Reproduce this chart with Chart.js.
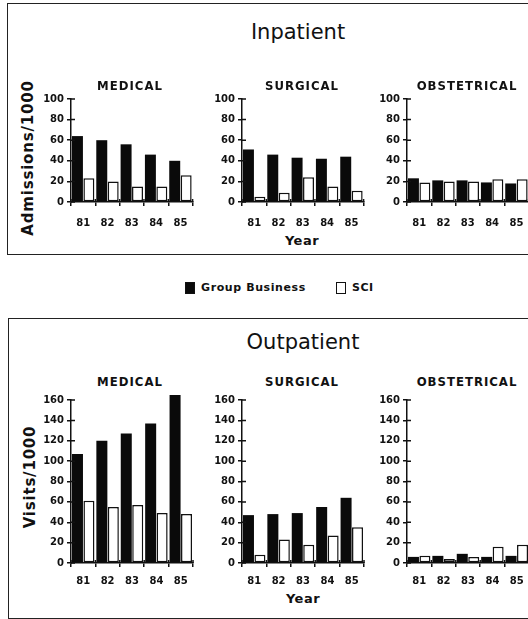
<!DOCTYPE html>
<html>
<head>
<meta charset="utf-8">
<script src="https://cdn.jsdelivr.net/npm/chart.js@4.4.0/dist/chart.umd.min.js"></script>
<style>
  body { margin:0; width:528px; height:619px; overflow:hidden; background:#fff; position:relative; font-family:'DejaVu Sans', sans-serif; color:#111; }
  .box { position:absolute; border:1.5px solid #222; box-sizing:border-box; }
  .txt { position:absolute; white-space:nowrap; transform:translate(-50%,-50%); }
  .title { font-size:21px; }
  .sub { font-size:13px; font-weight:bold; letter-spacing:1px; font-family:'DejaVu Sans Condensed','DejaVu Sans',sans-serif; }
  .ytitle { font-size:15px; font-weight:bold; letter-spacing:0.8px; transform:translate(-50%,-50%) rotate(-90deg); }
  .xtitle { font-size:13px; font-weight:bold; letter-spacing:0.5px; }
  .panel { position:absolute; }
  #legend { position:absolute; left:185px; top:281px; font-size:11px; font-weight:bold; letter-spacing:0.6px; display:flex; align-items:center; }
  #legend .sw { width:10px; height:12px; box-sizing:border-box; border:1.5px solid #111; margin-right:6px; }
  #legend .item { display:flex; align-items:center; margin-right:30px; }
</style>
</head>
<body>
<div class="box" style="left:7px;top:3px;width:540px;height:252px;"></div>
<div class="box" style="left:8px;top:318px;width:540px;height:301px;"></div>

<div class="txt title" style="left:298px;top:32px;">Inpatient</div>
<div class="txt title" style="left:303px;top:342px;">Outpatient</div>
<div class="txt ytitle" style="left:28px;top:158px;">Admissions/1000</div>
<div class="txt ytitle" style="left:30px;top:477px;">Visits/1000</div>
<div class="txt xtitle" style="left:302px;top:240px;">Year</div>
<div class="txt xtitle" style="left:303px;top:598px;">Year</div>
<div id="legend"></div>

<script>
// years on the x axis
const years = ['81', '82', '83', '84', '85'];
const seriesNames = ['Group Business', 'SCI'];
const sections = ['MEDICAL', 'SURGICAL', 'OBSTETRICAL'];

// Inpatient, admissions per 1000
const inMedicalGB = [64, 60, 56, 46, 40];
const inMedicalSCI = [23, 20, 15, 15, 26];
const inSurgicalGB = [51, 46, 43, 42, 44];
const inSurgicalSCI = [5, 9, 24, 15, 11];
const inObstetricalGB = [23, 21, 21, 19, 18];
const inObstetricalSCI = [19, 20, 20, 22, 22];

// Outpatient, visits per 1000
const outMedicalGB = [107, 120, 127, 137, 165];
const outMedicalSCI = [61, 55, 57, 49, 48];
const outSurgicalGB = [47, 48, 49, 55, 64];
const outSurgicalSCI = [8, 23, 18, 27, 35];
const outObstetricalGB = [6, 7, 9, 6, 7];
const outObstetricalSCI = [7, 4, 6, 16, 18];

const inpatientTicks = [0, 20, 40, 60, 80, 100];
const outpatientTicks = [0, 20, 40, 60, 80, 100, 120, 140, 160];

const ink = '#111';
const tickFont = { family: 'DejaVu Sans', size: 10, weight: 'bold' };

// little inward tick marks so the ticks cross the axis lines
const crossTicks = {
    id: 'crossTicks',
    afterDraw(chart) {
        const ctx = chart.ctx, a = chart.chartArea;
        const xs = chart.scales.x, ys = chart.scales.y;
        ctx.save();
        ctx.strokeStyle = ink;
        ctx.lineWidth = 1.5;
        ctx.beginPath();
        ys.ticks.forEach((t, i) => {
            const py = ys.getPixelForTick(i);
            ctx.moveTo(a.left, py);
            ctx.lineTo(a.left + 4, py);
        });
        for (let i = 0; i <= years.length; i++) {
            const px = xs.getPixelForValue(i - 0.5);
            ctx.moveTo(px, a.bottom);
            ctx.lineTo(px, a.bottom - 3);
        }
        ctx.stroke();
        ctx.restore();
    }
};

function makePanel(left, top, height, gb, sci, ticks, labelGap) {
    const wrap = document.createElement('div');
    wrap.className = 'panel';
    wrap.style.left = left + 'px';
    wrap.style.top = top + 'px';
    const canvas = document.createElement('canvas');
    canvas.width = 164;
    canvas.height = height;
    wrap.appendChild(canvas);
    document.body.appendChild(wrap);

    new Chart(canvas, {
        type: 'bar',
        data: {
            labels: years,
            datasets: [{
                label: seriesNames[0],
                data: gb,
                backgroundColor: '#0a0a0a',
                borderWidth: 0,
                clip: false
            }, {
                label: seriesNames[1],
                data: sci,
                backgroundColor: '#ffffff',
                borderColor: ink,
                borderWidth: 1.5,
                borderSkipped: false,
                clip: false
            }]
        },
        options: {
            responsive: false,
            animation: false,
            devicePixelRatio: 1,
            categoryPercentage: 0.94,
            barPercentage: 0.96,
            layout: { padding: { top: 8, right: 6, left: 0, bottom: 0 } },
            plugins: {
                legend: { display: false },
                tooltip: { enabled: false }
            },
            scales: {
                x: {
                    afterFit: s => { s.height = 30; },
                    grid: { display: true, drawOnChartArea: false, offset: true, color: ink, lineWidth: 1.5, tickLength: 4 },
                    border: { display: true, color: ink, width: 1.5 },
                    ticks: { color: ink, font: tickFont, padding: labelGap }
                },
                y: {
                    min: 0,
                    max: ticks[ticks.length - 1],
                    afterFit: s => { s.width = 36; },
                    afterBuildTicks: s => { s.ticks = ticks.map(v => ({ value: v })); },
                    grid: { display: true, drawOnChartArea: false, color: ink, lineWidth: 1.5, tickLength: 4 },
                    border: { display: true, color: ink, width: 1.5 },
                    ticks: { color: ink, font: tickFont, padding: 3 }
                }
            }
        },
        plugins: [crossTicks]
    });
}

const axisX = [71, 242, 407];
const subX = [130, 302, 467];

// Inpatient row
const inData = [[inMedicalGB, inMedicalSCI], [inSurgicalGB, inSurgicalSCI], [inObstetricalGB, inObstetricalSCI]];
inData.forEach((d, i) => makePanel(axisX[i] - 36, 90, 142, d[0], d[1], inpatientTicks, 11));

// Outpatient row
const outData = [[outMedicalGB, outMedicalSCI], [outSurgicalGB, outSurgicalSCI], [outObstetricalGB, outObstetricalSCI]];
outData.forEach((d, i) => makePanel(axisX[i] - 36, 391, 202, d[0], d[1], outpatientTicks, 8));

// section headings
[85, 381].forEach(y => {
    sections.forEach((name, i) => {
        const el = document.createElement('div');
        el.className = 'txt sub';
        el.style.left = subX[i] + 'px';
        el.style.top = y + 'px';
        el.textContent = name;
        document.body.appendChild(el);
    });
});

// legend
const legend = document.getElementById('legend');
seriesNames.forEach((name, i) => {
    const item = document.createElement('div');
    item.className = 'item';
    const sw = document.createElement('div');
    sw.className = 'sw';
    sw.style.background = i === 0 ? '#0a0a0a' : '#fff';
    item.appendChild(sw);
    const t = document.createElement('span');
    t.textContent = name;
    item.appendChild(t);
    legend.appendChild(item);
});
</script>
</body>
</html>
